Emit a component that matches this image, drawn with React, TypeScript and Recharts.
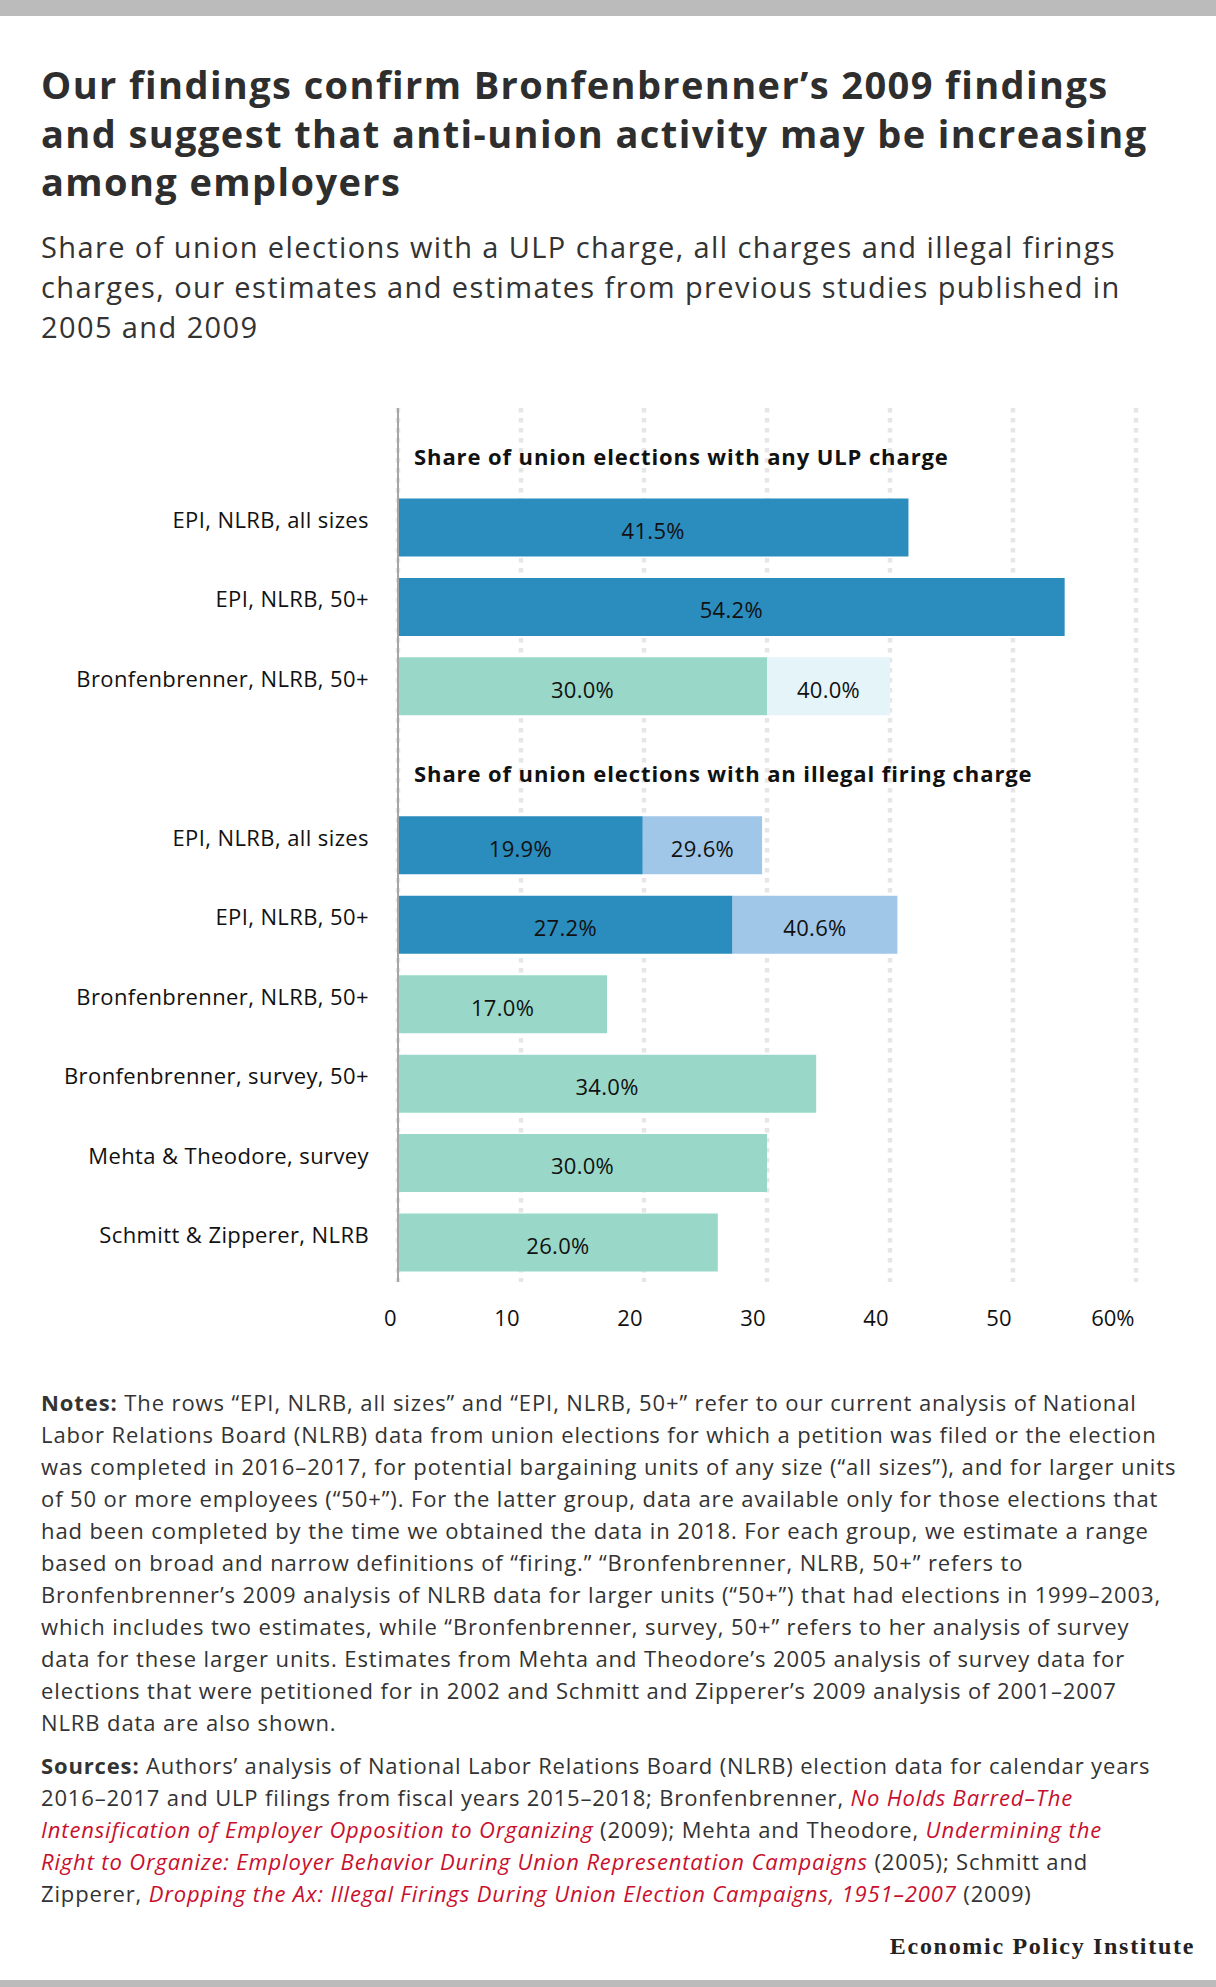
import React from 'react';
import { BarChart, Bar, XAxis, YAxis, CartesianGrid, Cell, LabelList } from 'recharts';

// ---------- data ----------
const rowIds = ['hdrULP', 'ulpEpiAll', 'ulpEpi50', 'ulpBronNlrb', 'hdrFire', 'fireEpiAll', 'fireEpi50', 'fireBronNlrb', 'fireBronSurvey', 'fireMehta', 'fireSchmitt'];
const rowLabels = ['', 'EPI, NLRB, all sizes', 'EPI, NLRB, 50+', 'Bronfenbrenner, NLRB, 50+', '', 'EPI, NLRB, all sizes', 'EPI, NLRB, 50+', 'Bronfenbrenner, NLRB, 50+', 'Bronfenbrenner, survey, 50+', 'Mehta & Theodore, survey', 'Schmitt & Zipperer, NLRB'];
const sectionHeaders = ['Share of union elections with any ULP charge', '', '', '', 'Share of union elections with an illegal firing charge', '', '', '', '', '', ''];
const rowGroup = ['', 'epi', 'epi', 'study', '', 'epi', 'epi', 'study', 'study', 'study', 'study'];
const lowValues = [null, 41.5, 54.2, 30.0, null, 19.9, 27.2, 17.0, 34.0, 30.0, 26.0];
const highValues = [null, null, null, 40.0, null, 29.6, 40.6, null, null, null, null];
const xTicks = [0, 10, 20, 30, 40, 50, 60];

const titleLines = [
  'Our findings confirm Bronfenbrenner\u2019s 2009 findings',
  'and suggest that anti-union activity may be increasing',
  'among employers',
];
const subtitleLines = [
  'Share of union elections with a ULP charge, all charges and illegal firings',
  'charges, our estimates and estimates from previous studies published in',
  '2005 and 2009',
];
const notesLines = [
  'The rows \u201cEPI, NLRB, all sizes\u201d and \u201cEPI, NLRB, 50+\u201d refer to our current analysis of National',
  'Labor Relations Board (NLRB) data from union elections for which a petition was filed or the election',
  'was completed in 2016\u20132017, for potential bargaining units of any size (\u201call sizes\u201d), and for larger units',
  'of 50 or more employees (\u201c50+\u201d). For the latter group, data are available only for those elections that',
  'had been completed by the time we obtained the data in 2018. For each group, we estimate a range',
  'based on broad and narrow definitions of \u201cfiring.\u201d \u201cBronfenbrenner, NLRB, 50+\u201d refers to',
  'Bronfenbrenner\u2019s 2009 analysis of NLRB data for larger units (\u201c50+\u201d) that had elections in 1999\u20132003,',
  'which includes two estimates, while \u201cBronfenbrenner, survey, 50+\u201d refers to her analysis of survey',
  'data for these larger units. Estimates from Mehta and Theodore\u2019s 2005 analysis of survey data for',
  'elections that were petitioned for in 2002 and Schmitt and Zipperer\u2019s 2009 analysis of 2001\u20132007',
  'NLRB data are also shown.',
];
// each source line: array of [text, isLink]
const sourcesLines: [string, boolean][][] = [
  [['Authors\u2019 analysis of National Labor Relations Board (NLRB) election data for calendar years', false]],
  [['2016\u20132017 and ULP filings from fiscal years 2015\u20132018; Bronfenbrenner, ', false], ['No Holds Barred\u2013The', true]],
  [['Intensification of Employer Opposition to Organizing', true], [' (2009); Mehta and Theodore, ', false], ['Undermining the', true]],
  [['Right to Organize: Employer Behavior During Union Representation Campaigns', true], [' (2005); Schmitt and', false]],
  [['Zipperer, ', false], ['Dropping the Ax: Illegal Firings During Union Election Campaigns, 1951\u20132007', true], [' (2009)', false]],
];

const data = rowIds.map((id, i) => ({
  id,
  low: lowValues[i],
  extra: highValues[i] != null && lowValues[i] != null ? (highValues[i] as number) - (lowValues[i] as number) : null,
  high: highValues[i],
}));

// ---------- styles ----------
const FONT = "'Open Sans', sans-serif";
const DARK_BLUE = '#2b8cbe';
const LIGHT_BLUE = '#a0c6e8';
const TEAL = '#99d7c8';
const PALE = '#e5f4f9';
const lowColor = (g: string) => (g === 'epi' ? DARK_BLUE : TEAL);
const highColor = (g: string) => (g === 'epi' ? LIGHT_BLUE : PALE);
const fmt = (v: number) => v.toFixed(1) + '%';

const BarLabel = (props: any) => {
  const vb = props.viewBox || props;
  const { x, y, width, height } = vb;
  const v = props.value;
  if (v == null || v === '' || width == null) return null;
  return (
    <text x={x + width / 2} y={y + height / 2 + 3.5 + 7.9} textAnchor="middle" fontFamily={FONT} fontSize={22} fill="#111" style={{ letterSpacing: 0.3 }}>
      {fmt(Number(v))}
    </text>
  );
};

const YTick = (props: any) => {
  const { x, y, payload } = props;
  const i = rowIds.indexOf(payload.value);
  if (sectionHeaders[i]) {
    return (
      <text x={x + 16} y={y + 9 + 7.8} textAnchor="start" fontFamily={FONT} fontWeight={700} fontSize={22} fill="#111" style={{ letterSpacing: 0.9 }}>
        {sectionHeaders[i]}
      </text>
    );
  }
  return (
    <text x={x - 29} y={y - 7 + 7.8} textAnchor="end" fontFamily={FONT} fontSize={22} fill="#111" style={{ letterSpacing: 0.4 }}>
      {rowLabels[i]}
    </text>
  );
};

const XTick = (props: any) => {
  const { x, y, payload } = props;
  const v = payload.value;
  return (
    <text x={x - 1.5} y={y + 36 + 7.9} textAnchor="end" fontFamily={FONT} fontSize={22} fill="#111">
      {v === xTicks[xTicks.length - 1] ? `${v}%` : `${v}`}
    </text>
  );
};

export default function App() {
  return (
    <div style={{ position: 'relative', width: 1216, height: 1987, background: '#fff', fontFamily: FONT, overflow: 'hidden' }}>
      <style>{`body{margin:0;}`}</style>
      <div style={{ position: 'absolute', left: 0, top: 0, width: 1216, height: 16, background: '#bbbbbb' }} />
      <div style={{ position: 'absolute', left: 41, top: 60, fontSize: 38, fontWeight: 700, lineHeight: '48.5px', color: '#2e2e2e', whiteSpace: 'nowrap', letterSpacing: 1.4 }}>
        {titleLines.map((t, i) => <div key={i}>{t}</div>)}
      </div>
      <div style={{ position: 'absolute', left: 41, top: 226.5, fontSize: 29, fontWeight: 400, lineHeight: '40px', color: '#333', whiteSpace: 'nowrap', letterSpacing: 1.4 }}>
        {subtitleLines.map((t, i) => <div key={i}>{t}</div>)}
      </div>

      <div style={{ position: 'absolute', left: 0, top: 400 }}>
        <BarChart width={1216} height={942} data={data} layout="vertical" margin={{ top: 8, right: 80, bottom: 0, left: 0 }} barSize={58}>
          <CartesianGrid horizontal={false} vertical={true} stroke="#e6e6e6" strokeWidth={4.5} strokeDasharray="4.5 5.5" />
          <XAxis type="number" domain={[0, 60]} ticks={xTicks} interval={0} axisLine={false} tickLine={false} tickSize={0} tickMargin={0} height={60} tick={<XTick />} />
          <YAxis type="category" dataKey="id" width={398} interval={0} axisLine={{ stroke: '#a6a6a6', strokeWidth: 2 }} tickLine={false} tickSize={0} tickMargin={0} tick={<YTick />} />
          <Bar dataKey="low" stackId="a" isAnimationActive={false}>
            {data.map((d, i) => <Cell key={i} fill={lowColor(rowGroup[i])} />)}
            <LabelList dataKey="low" content={<BarLabel />} />
          </Bar>
          <Bar dataKey="extra" stackId="a" isAnimationActive={false}>
            {data.map((d, i) => <Cell key={i} fill={highColor(rowGroup[i])} />)}
            <LabelList dataKey="high" content={<BarLabel />} />
          </Bar>
        </BarChart>
      </div>

      <div style={{ position: 'absolute', left: 41, top: 1385.5, fontSize: 22, lineHeight: '32px', color: '#333', whiteSpace: 'nowrap', letterSpacing: 0.9 }}>
        {notesLines.map((t, i) => (
          <div key={i}>{i === 0 ? <b>Notes: </b> : null}{t}</div>
        ))}
      </div>
      <div style={{ position: 'absolute', left: 41, top: 1748.5, fontSize: 22, lineHeight: '32px', color: '#333', whiteSpace: 'nowrap', letterSpacing: 0.85 }}>
        {sourcesLines.map((segs, i) => (
          <div key={i}>
            {i === 0 ? <b>Sources: </b> : null}
            {segs.map(([t, link], j) => link
              ? <i key={j} style={{ color: '#c8102e' }}>{t}</i>
              : <span key={j}>{t}</span>)}
          </div>
        ))}
      </div>
      <div style={{ position: 'absolute', right: 21, top: 1930, fontFamily: "'Liberation Serif', serif", fontWeight: 700, fontSize: 24, lineHeight: '32px', color: '#222', whiteSpace: 'nowrap', letterSpacing: 1.7 }}>
        Economic Policy Institute
      </div>
      <div style={{ position: 'absolute', left: 0, top: 1980, width: 1216, height: 7, background: '#bbbbbb' }} />
    </div>
  );
}
